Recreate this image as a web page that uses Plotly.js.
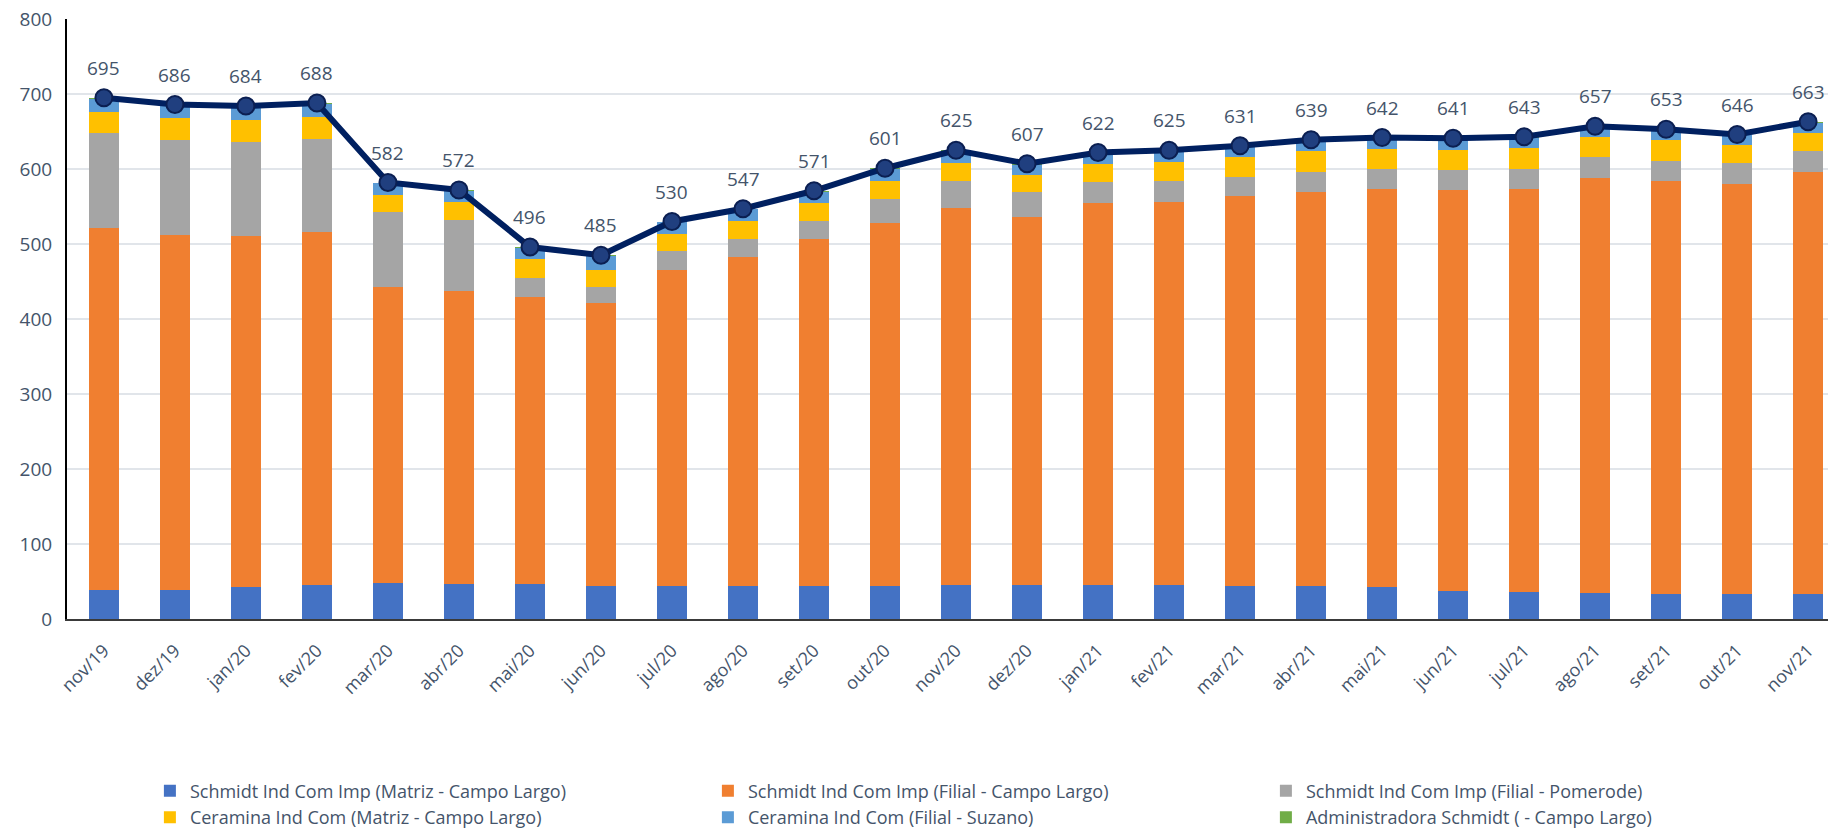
<!DOCTYPE html>
<html>
<head>
<meta charset="utf-8">
<script src="https://cdn.plot.ly/plotly-3.0.1.min.js"></script>
<style>html,body{margin:0;padding:0;background:#fff;}#chart{width:1828px;height:829px;}</style>
</head>
<body>
<div id="chart"></div>
<script>
const months = ["nov/19","dez/19","jan/20","fev/20","mar/20","abr/20","mai/20","jun/20","jul/20","ago/20","set/20","out/20","nov/20","dez/20","jan/21","fev/21","mar/21","abr/21","mai/21","jun/21","jul/21","ago/21","set/21","out/21","nov/21"];

const schmidtMatriz   = [39,39,43,45,48,47,47,44,44,44,44,44,45,45,45,45,44,44,43,37,36,35,34,34,34];
const schmidtFilialCL = [483,473,468,471,395,390,383,378,422,439,463,484,503,491,510,511,520,526,531,535,538,553,550,546,562];
const schmidtPomerode = [126,127,125,124,100,95,25,21,25,24,24,32,36,34,28,28,25,26,26,27,26,28,27,28,28];
const ceraminaMatriz  = [28,29,29,29,22,24,25,22,23,24,24,24,24,22,24,26,27,28,27,26,28,27,28,24,24];
const ceraminaSuzano  = [18,17,18,18,16,15,15,19,15,16,15,16,16,14,14,14,14,14,14,15,14,13,13,13,14];
const administradora  = [1,1,1,1,1,1,1,1,1,0,1,1,1,1,1,1,1,1,1,1,1,1,1,1,1];
const totals          = [695,686,684,688,582,572,496,485,530,547,571,601,625,607,622,625,631,639,642,641,643,657,653,646,663];

const seriesNames = [
  "Schmidt Ind Com Imp (Matriz - Campo Largo)",
  "Schmidt Ind Com Imp (Filial - Campo Largo)",
  "Schmidt Ind Com Imp (Filial - Pomerode)",
  "Ceramina Ind Com (Matriz - Campo Largo)",
  "Ceramina Ind Com (Filial - Suzano)",
  "Administradora Schmidt ( - Campo Largo)"
];
const seriesValues = [schmidtMatriz, schmidtFilialCL, schmidtPomerode, ceraminaMatriz, ceraminaSuzano, administradora];
const seriesColors = ["#4472C4","#F07F30","#A5A5A5","#FFC000","#5B9BD5","#70AD47"];

const FONT = "'Open Sans', sans-serif";
const TXT = "#44546A";

const traces = seriesValues.map((vals, i) => ({
  type: "bar",
  name: seriesNames[i],
  x: months,
  y: vals,
  marker: {color: seriesColors[i], line: {width: 0}},
  hoverinfo: "x+y+name"
}));

traces.push({
  type: "scatter",
  mode: "lines+markers",
  name: "Total",
  x: months,
  y: totals,
  showlegend: false,
  line: {color: "#002060", width: 6},
  marker: {size: 17, color: "#203F7F", line: {color: "#0B1F52", width: 2}}
});

const annotations = months.map((m, i) => ({
  x: m, y: totals[i], xref: "x", yref: "y",
  text: String(totals[i]), showarrow: false,
  yshift: 30, font: {family: FONT, size: 19, color: TXT}
}));

const layout = {
  width: 1828, height: 829,
  margin: {l: 67, r: 0, t: 19, b: 210, pad: 0},
  paper_bgcolor: "#fff", plot_bgcolor: "#fff",
  barmode: "stack",
  bargap: 0.58,
  font: {family: FONT, color: TXT, size: 18},
  xaxis: {
    type: "category",
    range: [-0.52, 24.28],
    tickangle: -45,
    tickfont: {family: FONT, size: 18, color: TXT},
    showline: true, linecolor: "#3a3a3a", linewidth: 2,
    showgrid: false, ticks: "", ticklabelstandoff: 12,
    automargin: false
  },
  yaxis: {
    range: [0, 800], dtick: 100,
    tickfont: {family: FONT, size: 19, color: TXT},
    showline: true, linecolor: "#000", linewidth: 2,
    gridcolor: "#E1E5EA", gridwidth: 2,
    zeroline: false, ticks: "", ticklabelstandoff: 9,
    automargin: false
  },
  legend: {
    orientation: "h",
    xref: "container", yref: "container",
    x: 0.082, xanchor: "left",
    y: 0.068, yanchor: "top",
    traceorder: "normal",
    entrywidth: 513, entrywidthmode: "pixels",
    font: {family: FONT, size: 18, color: TXT}
  },
  annotations: annotations
};

Plotly.newPlot("chart", traces, layout, {displayModeBar: false, staticPlot: true});
</script>
</body>
</html>
